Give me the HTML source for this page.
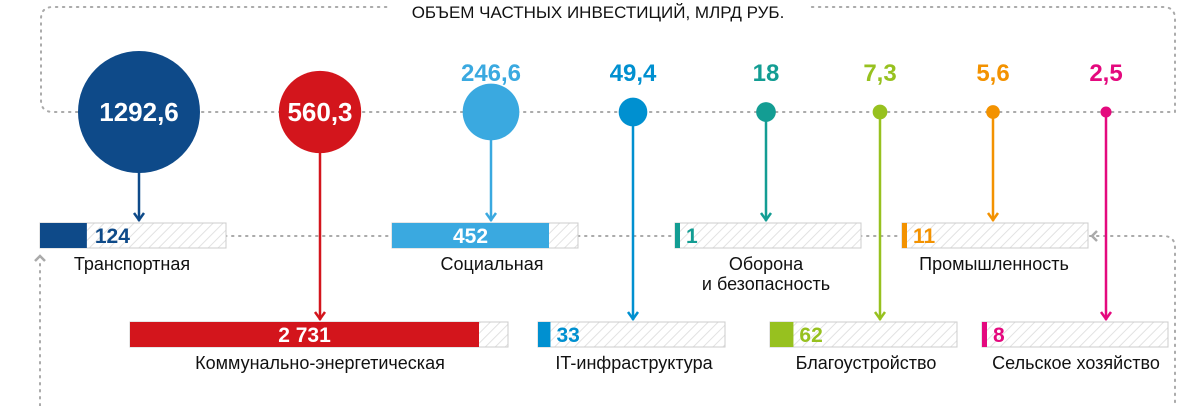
<!DOCTYPE html>
<html><head><meta charset="utf-8">
<style>
html,body{margin:0;padding:0;background:#fff;}
body{width:1200px;height:406px;overflow:hidden;font-family:"Liberation Sans Narrow","Liberation Sans","DejaVu Sans",sans-serif;}
svg text{font-family:"Liberation Sans Narrow","Liberation Sans","DejaVu Sans",sans-serif;}
</style></head>
<body>
<svg id="chart" width="1200" height="406" viewBox="0 0 1200 406" xmlns="http://www.w3.org/2000/svg">
<defs>
<pattern id="hatch" patternUnits="userSpaceOnUse" width="7" height="7" patternTransform="rotate(45)">
<rect width="7" height="7" fill="#fff"/>
<line x1="0" y1="0" x2="0" y2="7" stroke="#e2e2e2" stroke-width="2"/>
</pattern>
</defs>
<g id="frame" fill="none" stroke="#aaa" stroke-width="2" stroke-dasharray="1.5 5.5" stroke-linecap="round">
<path d="M1175 112 L1175 19 Q1175 7 1163 7 L53 7 Q41 7 41 19 L41 100 Q41 112 53 112 L1175 112"/>
<path d="M225 236 L392 236 M578 236 L675 236 M860 236 L902 236 M1090 236 L1163 236 Q1175 236 1175 248 L1175 406"/>
<path d="M40 264 L40 406"/>
</g>
<path d="M35 261 L40 256 L45 261" fill="none" stroke="#aaa" stroke-width="2.5"/>
<path d="M1097 231 L1092 236 L1097 241" fill="none" stroke="#aaa" stroke-width="2.5"/>
<rect x="388" y="0" width="420" height="20" fill="#fff"/>
<text x="598" y="18" text-anchor="middle" font-size="17" fill="#111">ОБЪЕМ ЧАСТНЫХ ИНВЕСТИЦИЙ, МЛРД РУБ.</text>
<g id="marks"></g>
</svg>
<script>
const categories=["Транспортная","Коммунально-энергетическая","Социальная","IT-инфраструктура","Оборона|и безопасность","Благоустройство","Промышленность","Сельское хозяйство"];
const investValues=[1292.6,560.3,246.6,49.4,18,7.3,5.6,2.5];
const investLabels=["1292,6","560,3","246,6","49,4","18","7,3","5,6","2,5"];
const projectValues=[124,2731,452,33,1,62,11,8];
const projectLabels=["124","2 731","452","33","1","62","11","8"];
const colors=["#0e4a89","#d3151c","#3aa9e0","#0090d0","#139d93","#97c11f","#f39200","#e4097e"];
// layout (positions, not data)
const cx=[139,320,491,633,766,880,993,1106];
const rowOf=[0,1,0,1,0,1,0,1];
const barX=[40,130,392,538,675,770,902,982];
const barW=[186,378,186,187,186,187,186,186];
const labelX=[132,320,492,634,766,866,994,1076];
const CY=112, ROWY=[223,322], BH=25;
function rScale(v){return 3+58*Math.sqrt(v/investValues[0]);}
function wScale(v,cw){return Math.min(Math.max(v*0.378,5),cw-29);}
const ns="http://www.w3.org/2000/svg";
const g=document.getElementById('marks');
function mk(t,a){const e=document.createElementNS(ns,t);for(const k in a)e.setAttribute(k,a[k]);g.appendChild(e);return e;}
categories.forEach((c,i)=>{
  const r=rScale(investValues[i]);
  const by=ROWY[rowOf[i]];
  const ln=mk('line',{x1:cx[i],y1:CY,x2:cx[i],y2:by-2,stroke:colors[i],'stroke-width':2.5});
  
  
  const ah=mk('path',{d:`M${cx[i]-5} ${by-10} L${cx[i]} ${by-3} L${cx[i]+5} ${by-10}`,fill:'none',stroke:colors[i],'stroke-width':2.5});
  
  
  const ci=mk('circle',{cx:cx[i],cy:CY,r:r,fill:colors[i]});
  
  
  const inside=r>35;
  const vt=mk('text',{x:cx[i],y:inside?CY+9:CY-31,'text-anchor':'middle','font-size':inside?26:24,'font-weight':'bold',fill:inside?'#fff':colors[i]});
  vt.textContent=investLabels[i];
  
  
  const bg=mk('rect',{x:barX[i],y:by,width:barW[i],height:BH,fill:'url(#hatch)',stroke:'#ccc','stroke-width':1});
  
  
  const fw=wScale(projectValues[i],barW[i]);
  const bf=mk('rect',{x:barX[i],y:by,width:fw,height:BH,fill:colors[i]});
  
  
  const big=fw>120;
  const pt=mk('text',{x:big?barX[i]+fw/2:barX[i]+fw+(fw>30?8:6),y:by+20,'text-anchor':big?'middle':'start','font-size':21,'font-weight':'bold',fill:big?'#fff':colors[i]});
  pt.textContent=projectLabels[i];
  
  
  c.split('|').forEach((s,j)=>{
    const lt=mk('text',{x:labelX[i],y:by+47+j*20,'text-anchor':'middle','font-size':18,fill:'#111'});
    lt.textContent=s;
    
    
  });
});
</script>
</body></html>
